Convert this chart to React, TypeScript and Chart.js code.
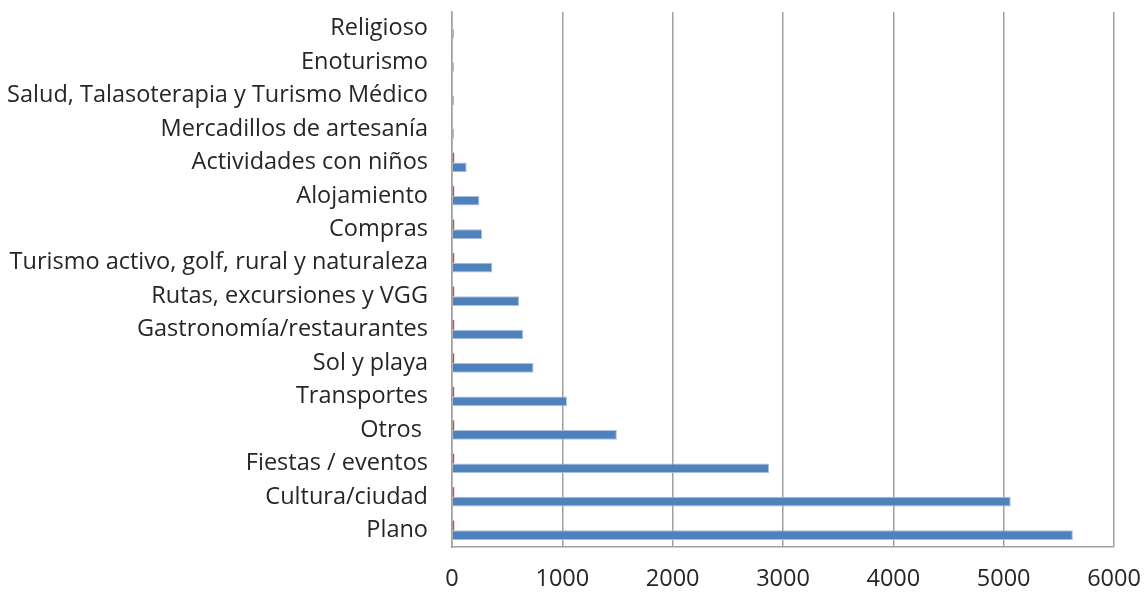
import React, { useEffect, useRef } from "react";
import { Chart, registerables } from "chart.js";

Chart.register(...registerables);

const categories = [
  "Religioso",
  "Enoturismo",
  "Salud, Talasoterapia y Turismo Médico",
  "Mercadillos de artesanía",
  "Actividades con niños",
  "Alojamiento",
  "Compras",
  "Turismo activo, golf, rural y naturaleza",
  "Rutas, excursiones y VGG",
  "Gastronomía/restaurantes",
  "Sol y playa",
  "Transportes",
  "Otros ",
  "Fiestas / eventos",
  "Cultura/ciudad",
  "Plano",
];

const seriesRed = [0, 0, 0, 0, 20, 20, 20, 20, 20, 20, 20, 20, 20, 20, 20, 20];
const seriesBlue = [18, 18, 18, 18, 133, 248, 273, 366, 609, 645, 739, 1042, 1494, 2873, 5064, 5627];

const xTicks = [0, 1000, 2000, 3000, 4000, 5000, 6000];

export default function App() {
  const ref = useRef<HTMLCanvasElement | null>(null);

  useEffect(() => {
    if (!ref.current) return;
    const chart = new Chart(ref.current, {
      type: "bar",
      data: {
        labels: categories,
        datasets: [
          {
            label: "Serie 2",
            data: seriesRed,
            backgroundColor: "#C0504D",
            borderWidth: 0,
            categoryPercentage: 0.58,
            barPercentage: 1.0,
          },
          {
            label: "Serie 1",
            data: seriesBlue,
            backgroundColor: "#4F81BD",
            borderColor: "#A7C0DE",
            borderWidth: 1,
            borderSkipped: "left",
            categoryPercentage: 0.58,
            barPercentage: 1.0,
          },
        ],
      },
      options: {
        indexAxis: "y",
        animation: false,
        responsive: false,
        maintainAspectRatio: false,
        layout: { padding: { top: 12, right: 30, left: 0, bottom: 0 } },
        plugins: { legend: { display: false }, tooltip: { enabled: false } },
        scales: {
          x: {
            min: 0,
            max: 6000,
            afterBuildTicks: (scale: any) => {
              scale.ticks = xTicks.map((v) => ({ value: v }));
            },
            afterFit: (scale: any) => {
              scale.height = 45;
              scale.paddingLeft = 0;
              scale.paddingRight = 0;
            },
            grid: {
              color: "#A0A0A0",
              lineWidth: 1.5,
              drawTicks: false,
            },
            border: { display: true, color: "#A0A0A0", width: 1.5 },
            ticks: {
              padding: 18,
              color: "#262626",
              callback: (v: any) => String(v),
              font: { family: "Open Sans", size: 23.5 },
            },
          },
          y: {
            afterFit: (scale: any) => {
              scale.width = 452;
              scale.paddingTop = 0;
              scale.paddingBottom = 0;
            },
            grid: { display: false, drawTicks: false },
            border: { display: true, color: "#A0A0A0", width: 1.5 },
            ticks: {
              padding: 24,
              color: "#262626",
              autoSkip: false,
              font: { family: "Open Sans", size: 23.5 },
            },
          },
        },
      },
    });
    return () => chart.destroy();
  }, []);

  return (
    <div style={{ position: "fixed", left: 0, top: 0, width: 1144, height: 592, background: "#fff" }}>
      <canvas ref={ref} width={1144} height={592} style={{ width: 1144, height: 592 }} />
    </div>
  );
}
